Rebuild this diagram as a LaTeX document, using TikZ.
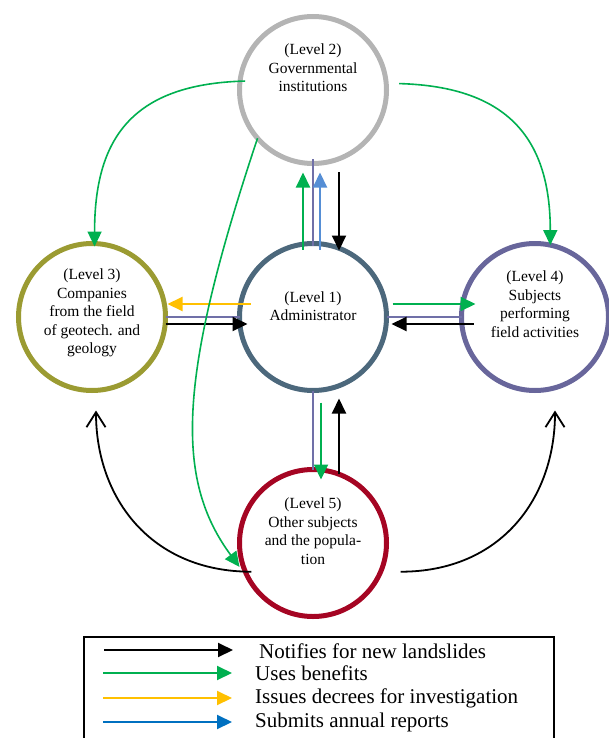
\documentclass[tikz,border=0pt]{standalone}
\usepackage{fontspec}
\setmainfont{Liberation Serif}
\usetikzlibrary{arrows.meta}
\definecolor{lvlone}{RGB}{76,104,124}
\definecolor{lvltwo}{RGB}{180,180,180}
\definecolor{lvlthree}{RGB}{155,155,50}
\definecolor{lvlfour}{RGB}{104,102,155}
\definecolor{lvlfive}{RGB}{165,5,35}
\definecolor{benefitgreen}{RGB}{0,176,80}
\definecolor{decreeyellow}{RGB}{255,192,0}
\definecolor{reportblue}{RGB}{85,142,213}
\definecolor{keyblue}{RGB}{0,112,192}
\definecolor{linkpurple}{RGB}{112,112,168}
\tikzset{
  lvl/.style={circle,line width=5pt,minimum size=147pt,inner sep=0pt,outer sep=0pt},
  txt/.style={align=center,font=\fontsize{15.5}{18.5}\selectfont},
  key/.style={anchor=west,inner sep=0pt,font=\fontsize{21}{24}\selectfont},
  notify/.style={line width=2pt,-{Triangle[length=15pt,width=14pt]}},
  benefit/.style={notify,draw=benefitgreen},
  decree/.style={notify,draw=decreeyellow},
  report/.style={notify,draw=reportblue},
  link/.style={line width=2pt,draw=linkpurple},
  benefitcurve/.style={line width=1.6pt,draw=benefitgreen,-{Triangle[length=15pt,width=14pt]}},
  notifycurve/.style={line width=1.8pt,-{Straight Barb[length=15pt,width=19pt]}}
}
\begin{document}
\begin{tikzpicture}[x=1pt,y=-1pt]
  \useasboundingbox (0,0) rectangle (608,738);
  \draw
    (313,317) node[lvl,draw=lvlone] (l1){}
    (313,90) node[lvl,draw=lvltwo] (l2){}
    (92,317) node[lvl,draw=lvlthree] (l3){}
    (535,317) node[lvl,draw=lvlfour] (l4){}
    (313,543) node[lvl,draw=lvlfive] (l5){};
  \node[txt] (t1) at (313,306) {(Level 1)\\Administrator};
  \node[txt] (t2) at (313,68) {(Level 2)\\Governmental\\institutions};
  \node[txt] (t3) at (92,313) {(Level 3)\\Companies\\from the field\\of geotech. and\\geology};
  \node[txt] (t4) at (535,304) {(Level 4)\\Subjects\\performing\\field activities};
  \node[txt] (t5) at (313,531) {(Level 5)\\Other subjects\\and the popula-\\tion};
  \begin{scope}
    \draw[benefit] ([xshift=-10pt,yshift=-6pt]l1.north) -- ([xshift=-10pt,yshift=-9pt]l2.south);
    \draw[link] ([yshift=4pt]l2.south) -- ([yshift=-2pt]l1.north);
    \draw[report] ([xshift=7pt,yshift=-6pt]l1.north) -- ([xshift=7pt,yshift=-9pt]l2.south);
    \draw[notify] ([xshift=26pt,yshift=-9pt]l2.south) -- ([xshift=26pt,yshift=-7pt]l1.north);
    \draw[decree] ([xshift=11pt,yshift=13pt]l1.west) -- ([xshift=2pt,yshift=13pt]l3.east);
    \draw[link] (l3.east) -- (l1.west);
    \draw[notify] ([yshift=-7pt]l3.east) -- ([xshift=8pt,yshift=-7pt]l1.west);
    \draw[benefit] ([xshift=6pt,yshift=13pt]l1.east) -- ([xshift=14pt,yshift=13pt]l4.west);
    \draw[link] (l1.east) -- (l4.west);
    \draw[notify] ([xshift=12pt,yshift=-7pt]l4.west) -- ([xshift=5pt,yshift=-7pt]l1.east);
    \draw[link] (l1.south) -- (l5.north);
    \draw[benefit] ([xshift=8pt,yshift=-12pt]l1.south) -- ([xshift=8pt,yshift=-10pt]l5.north);
    \draw[notify] ([xshift=26pt,yshift=-4pt]l5.north) -- ([xshift=26pt,yshift=-8pt]l1.south);
  \end{scope}
  \begin{scope}
    \draw[benefitcurve] ([xshift=5pt]l2.173) .. controls +(-115,3) and +(0,-106) .. ([yshift=-3pt]l3.88);
    \draw[benefitcurve] ([xshift=13pt]l2.5) .. controls +(110,3) and +(0,-105) .. (l4.78);
    \draw[benefitcurve] (l2.221) .. controls +(-80,240) and +(-65,-88) .. ([xshift=-4pt]l5.199);
    \draw[notifycurve] ([xshift=6pt]l5.203) .. controls +(-100,0) and +(0,88) .. ([xshift=4pt,yshift=-20pt]l3.south);
    \draw[notifycurve] ([xshift=20pt]l5.-23) .. controls +(100,0) and +(0,88) .. ([xshift=20pt,yshift=-20pt]l4.south);
  \end{scope}
  \draw[line width=1.7pt] (84,637) rectangle (554,760);
  \coordinate (k1) at (104,650);
  \coordinate (k1e) at (233,650);
  \coordinate (k2) at (103,673);
  \coordinate (k2e) at (232,673);
  \coordinate (k3) at (103,698);
  \coordinate (k3e) at (232,698);
  \coordinate (k4) at (103,722);
  \coordinate (k4e) at (232,722);
  \draw[notify] (k1) -- (k1e);
  \draw[benefit] (k2) -- (k2e);
  \draw[decree] (k3) -- (k3e);
  \draw[notify,draw=keyblue] (k4) -- (k4e);
  \node[key] (n1) at (259,651) {Notifies for new landslides};
  \node[key] (n2) at (255,673) {Uses benefits};
  \node[key] (n3) at (255,698) {Issues decrees for investigation};
  \node[key] (n4) at (255,722) {Submits annual reports};
\end{tikzpicture}
\end{document}
